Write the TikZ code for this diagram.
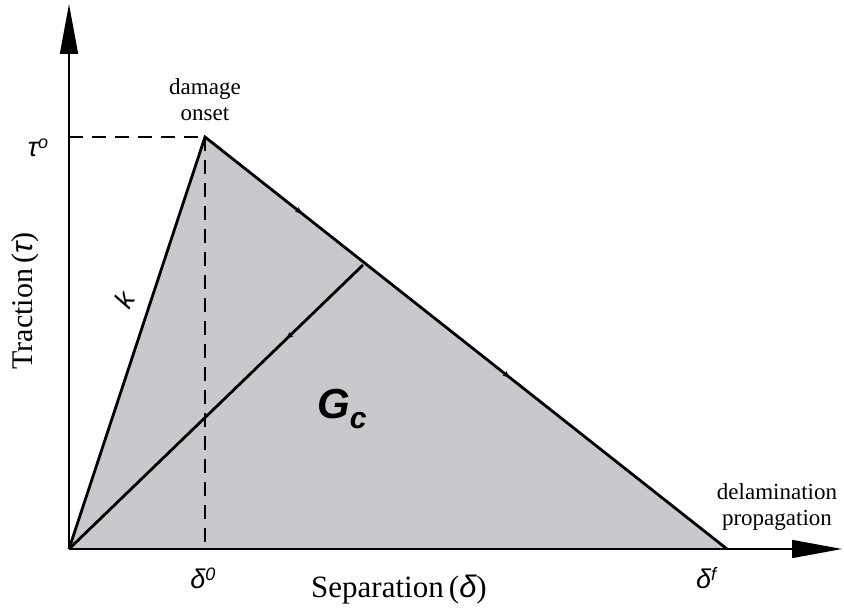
\documentclass[tikz,border=0pt]{standalone}
\usepackage{fontspec}
\setmainfont{Liberation Serif}
\newfontfamily\symfont{Liberation Sans}
\usetikzlibrary{arrows.meta, decorations.markings}
\definecolor{areagray}{RGB}{200,201,204}

\begin{document}
\begin{tikzpicture}[
  x=1pt, y=-1pt,
  axis/.style={line width=1.6pt, -{Triangle[length=50pt, width=18pt]}},
  curve/.style={line width=2.8pt},
  guide/.style={line width=1.2pt, dash pattern=on 14pt off 9pt},
  lbl/.style={font=\fontsize{23}{26}\selectfont, align=center},
  sym/.style={font=\symfont\itshape\fontsize{27}{30}\selectfont},
  midarr/.style={postaction={decorate}, decoration={markings,
    mark=at position #1 with {\arrow{Stealth[length=7pt, width=6pt]}}}}
]
\useasboundingbox (0,0) rectangle (844,609);

\coordinate (O)    at (69,549);
\coordinate (peak) at (205,137);
\coordinate (df)   at (727,549);
\coordinate (unl)  at (363,265);
\coordinate (d0)   at (205,549);
\coordinate (t0)   at (69,137);
\coordinate (ytop) at (69,4);
\coordinate (xend) at (842,549);

% softening area
\fill[areagray] (O) -- (peak) -- (df) -- cycle;

% guides to the onset point
\draw[guide] (t0) -- (peak);
\draw[guide] (peak) -- (d0);

% axes
\draw[axis] (O) -- (ytop);
\draw[axis] (O) -- (xend);

% traction-separation law
\draw[curve, line join=miter] (O) -- (peak) -- (df);
\path[curve, midarr=0.186] (peak) -- (df);
\path[curve, midarr=0.584] (peak) -- (df);
\draw[curve, midarr=0.26] (unl) -- (O);

% labels
\node[lbl] (onset) at (205,100) {damage\\onset};
\node[lbl] (prop)  at (777,507) {delamination\\propagation};
\node[sym] (tau0)  at (38,148) {τ\raisebox{8pt}{\fontsize{18}{20}\selectfont o}};
\node[sym] (del0)  at (203,578) {δ\raisebox{8pt}{\fontsize{18}{20}\selectfont 0}};
\node[sym] (delf)  at (706,578) {δ\raisebox{8pt}{\fontsize{18}{20}\selectfont f}};
\node[sym, rotate=60] (k) at (124,300) {k};
\node[font=\symfont\bfseries\itshape\fontsize{42}{46}\selectfont] (gc) at (342,409)
  {G\raisebox{-10pt}{\fontsize{30}{32}\selectfont c}};
\node[font=\fontsize{31}{34}\selectfont] (xlab) at (399,590)
  {Separation\,({\symfont\itshape δ})};
\node[font=\fontsize{30}{34}\selectfont, rotate=90] (ylab) at (25,301)
  {Traction\,({\symfont\itshape τ})};
\end{tikzpicture}
\end{document}
